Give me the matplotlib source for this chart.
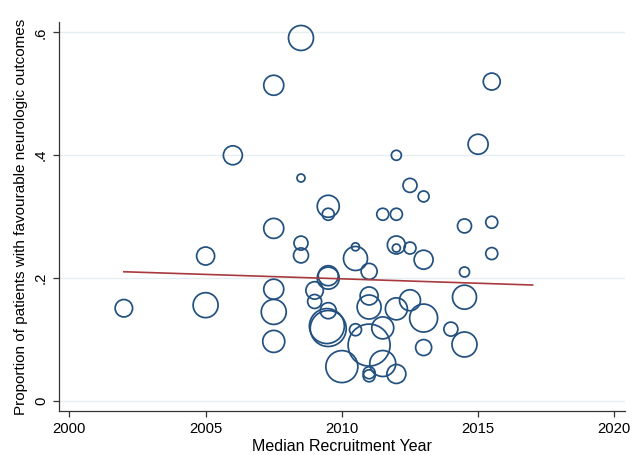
import matplotlib
matplotlib.use("Agg")
import matplotlib.pyplot as plt
import numpy as np

# ── study-level data: median recruitment year, proportion favourable, study weight
year = [2002.0, 2005.0, 2005.0, 2006.0, 2007.5, 2007.5, 2007.5, 2007.5, 2007.5,
        2008.5, 2008.5, 2008.5, 2008.5, 2009.0, 2009.0, 2009.5, 2009.5, 2009.5,
        2009.5, 2009.5, 2009.45, 2009.5, 2010.0, 2010.5, 2010.5, 2010.5, 2011.0,
        2011.0, 2011.0, 2011.0, 2011.0, 2011.0, 2011.5, 2011.5, 2011.5, 2012.0,
        2012.0, 2012.0, 2012.0, 2012.0, 2012.0, 2012.5, 2012.5, 2012.5, 2013.0,
        2013.0, 2013.0, 2013.0, 2014.0, 2014.5, 2014.5, 2014.5, 2014.5, 2015.0,
        2015.5, 2015.5, 2015.5]
prop = [0.151, 0.156, 0.236, 0.400, 0.514, 0.281, 0.182, 0.145, 0.097,
        0.591, 0.363, 0.257, 0.237, 0.180, 0.162, 0.317, 0.304, 0.204,
        0.200, 0.147, 0.122, 0.118, 0.056, 0.251, 0.232, 0.116, 0.211,
        0.171, 0.153, 0.091, 0.046, 0.041, 0.304, 0.119, 0.061, 0.400,
        0.304, 0.254, 0.249, 0.150, 0.044, 0.351, 0.249, 0.164, 0.333,
        0.230, 0.135, 0.087, 0.117, 0.285, 0.210, 0.169, 0.092, 0.418,
        0.520, 0.291, 0.240]
weight = [76, 156, 81, 90, 100, 100, 100, 156, 121,
          156, 16, 49, 56, 76, 49, 121, 36, 100,
          121, 64, 306, 324, 256, 16, 144, 36, 64,
          81, 144, 441, 36, 36, 36, 121, 169, 25,
          36, 81, 16, 121, 90, 49, 36, 110, 30,
          90, 196, 64, 49, 49, 25, 144, 156, 100,
          72, 36, 36]

# meta-regression fitted line
fit_year = [2002, 2017]
fit_prop = [0.2104, 0.1888]

xticks = [2000, 2005, 2010, 2015, 2020]
yticks = [0, 0.2, 0.4, 0.6]
ytick_labels = ["0", ".2", ".4", ".6"]

plt.rcParams["font.family"] = ["Liberation Sans", "DejaVu Sans"]

fig = plt.figure(figsize=(6.44, 4.55), dpi=100)
ax = fig.add_axes([59 / 644, 1 - 411 / 455, 566 / 644, 389 / 455])

for y in yticks:
    ax.axhline(y, color="#e6eef1", linewidth=1.0, zorder=0)

sizes = np.array(weight) * 2.07
ax.scatter(year, prop, s=sizes, facecolors="none", edgecolors="#22507f",
           linewidths=1.25, zorder=2)
ax.plot(fit_year, fit_prop, color="#a8393f", linewidth=1.2, zorder=3)

ax.set_xlim(1999.62, 2020.39)
ax.set_ylim(-0.0163, 0.617)
ax.set_xticks(xticks)
ax.set_yticks(yticks)
ax.set_yticklabels(ytick_labels, rotation=90, va="center")

for side in ["top", "right"]:
    ax.spines[side].set_visible(False)
for side in ["left", "bottom"]:
    ax.spines[side].set_color("#333333")
    ax.spines[side].set_linewidth(0.9)
ax.tick_params(direction="out", length=4, width=0.9, color="#333333",
               labelsize=10.7, pad=4)

ax.set_xlabel("Median Recruitment Year", fontsize=11.5, labelpad=2)
ax.set_ylabel("Proportion of patients with favourable neurologic outcomes",
              fontsize=11, labelpad=4)

fig.savefig("out.png", dpi=100)
